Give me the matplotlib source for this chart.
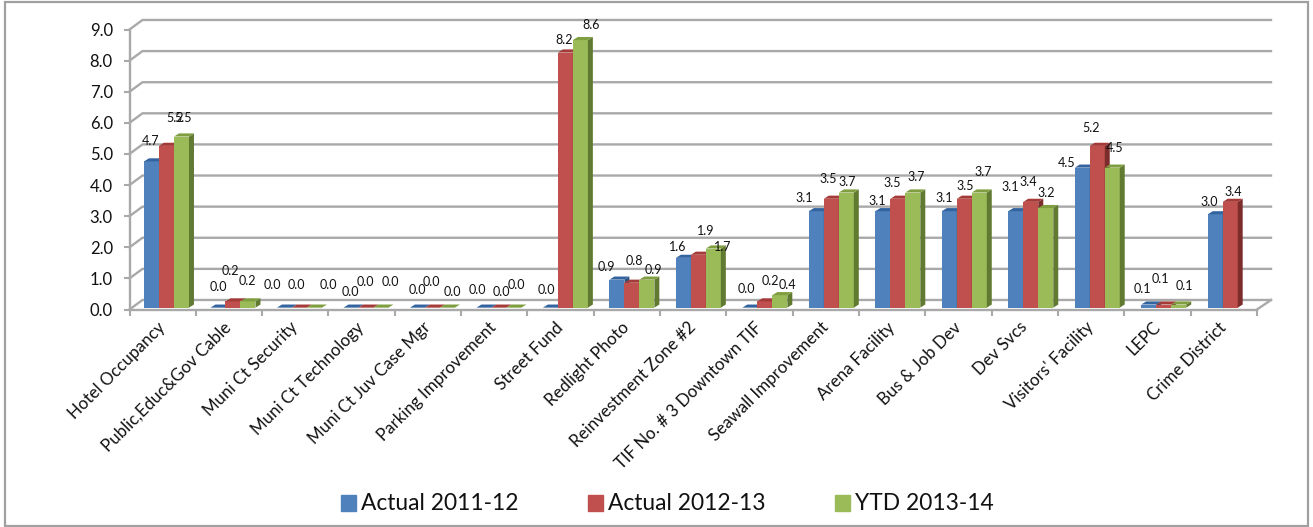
import matplotlib
matplotlib.use('Agg')
import matplotlib.pyplot as plt
from matplotlib.patches import Patch, Polygon, Rectangle
from matplotlib.transforms import Affine2D

plt.rcParams['font.family'] = ['Lato', 'DejaVu Sans']

categories = ['Hotel Occupancy', 'Public,Educ&Gov Cable', 'Muni Ct Security', 'Muni Ct Technology',
              'Muni Ct Juv Case Mgr', 'Parking Improvement', 'Street Fund', 'Redlight Photo',
              'Reinvestment Zone #2', 'TIF No. # 3 Downtown TIF', 'Seawall Improvement', 'Arena Facility',
              'Bus & Job Dev', 'Dev Svcs', "Visitors' Facility", 'LEPC', 'Crime District']
actual_2011 = [4.7, 0.0, 0.0, 0.0, 0.0, 0.0, 0.0, 0.9, 1.6, 0.0, 3.1, 3.1, 3.1, 3.1, 4.5, 0.1, 3.0]
actual_2012 = [5.2, 0.2, 0.0, 0.0, 0.0, 0.0, 8.2, 0.8, 1.7, 0.2, 3.5, 3.5, 3.5, 3.4, 5.2, 0.1, 3.4]
ytd_2013 = [5.5, 0.2, 0.0, 0.0, 0.0, 0.0, 8.6, 0.9, 1.9, 0.4, 3.7, 3.7, 3.7, 3.2, 4.5, 0.1, None]
series_names = ['Actual 2011-12', 'Actual 2012-13', 'YTD 2013-14']
y_ticks = [0, 1, 2, 3, 4, 5, 6, 7, 8, 9]

# where the labels sit in the picture (pixels from top left), they are not tidy in the original
label_pos = [
    [(151, 141), (175, 118), (183, 118)], [(218, 287), (230, 271), (247, 281)],
    [(272, 285), (296, 285), (328, 285)], [(350, 292), (365, 282), (390, 282)],
    [(417, 290), (431, 282), (452, 292)], [(477, 290), (501, 292), (516, 285)],
    [(546, 290), (564, 40), (591, 25)], [(606, 267), (634, 261), (653, 270)],
    [(678, 247), (723, 247), (706, 231)], [(746, 289), (770, 281), (787, 285)],
    [(804, 198), (828, 179), (847, 182)], [(877, 201), (892, 183), (916, 177)],
    [(944, 198), (965, 186), (983, 172)], [(1010, 187), (1028, 182), (1046, 193)],
    [(1067, 163), (1091, 128), (1115, 148)], [(1142, 289), (1160, 279), (1184, 286)],
    [(1209, 202), (1233, 192), None],
]

W, H = 1313, 527
front_colors = ['#4f81bd', '#c0504d', '#9bbb59']
top_colors = ['#34649f', '#a53b38', '#7f9e3f']
side_colors = ['#2f5381', '#7c2d2b', '#617a32']
grid_color = '#a9a9a9'
text_color = '#111111'

fig = plt.figure(figsize=(W / 100, H / 100), dpi=100)
ax = fig.add_axes([129.5 / W, (H - 309.5) / H, (1257 - 129.5) / W, 280 / H])
ax.set_xlim(0, 17)
ax.set_ylim(0, 9)

# outer frame of the chart
fig.add_artist(Rectangle((5 / W, 1.5 / H), 1303 / W, 524 / H, transform=fig.transFigure,
                         fill=False, ec='#a0a0a0', lw=1.6))

# fake 3d walls
wall_dx, wall_dy = 0.196, 0.306
for v in y_ticks:
    ax.plot([0, wall_dx, 17 + wall_dx + 0.015], [v, v + wall_dy, v + wall_dy], color=grid_color, lw=1.7,
            zorder=1, clip_on=False, solid_joinstyle='miter')
ax.plot([17, 17 + wall_dx + 0.015], [0, wall_dy], color=grid_color, lw=1.7, zorder=1, clip_on=False)

# fake 3d bars
bar_w = 0.226
base = 0.06
depth_x, depth_y = 0.075, 0.1
for s, values in enumerate([actual_2011, actual_2012, ytd_2013]):
    for i, v in enumerate(values):
        if v is None:
            continue
        x0 = i + 0.219 + i * 0.0024 + s * bar_w
        x1 = x0 + bar_w
        top = base + v
        ax.bar(x0, v, bar_w, bottom=base, align='edge', color=front_colors[s], zorder=3 + s + i * 3, clip_on=False)
        ax.add_patch(Polygon([(x1, base), (x1 + depth_x, base + depth_y), (x1 + depth_x, top + depth_y), (x1, top)],
                             fc=side_colors[s], ec='none', zorder=3 + s + i * 3, clip_on=False))
        ax.add_patch(Polygon([(x0, top), (x0 + depth_x, top + depth_y), (x1 + depth_x, top + depth_y), (x1, top)],
                             fc=top_colors[s], ec='none', zorder=3 + s + i * 3, clip_on=False))

# value labels, placed in picture pixels
pixels = Affine2D().scale(1, -1).translate(0, H)
for i, group in enumerate(label_pos):
    for s, values in enumerate([actual_2011, actual_2012, ytd_2013]):
        if group[s] is None:
            continue
        ax.text(group[s][0], group[s][1], f'{values[i]:.1f}', transform=pixels, ha='center', va='center',
                fontsize=9, color=text_color, zorder=100, clip_on=False)

for side in ['top', 'right']:
    ax.spines[side].set_visible(False)
for side in ['left', 'bottom']:
    ax.spines[side].set_color(grid_color)
    ax.spines[side].set_linewidth(1.7)
    ax.spines[side].set_zorder(2)

ax.set_yticks(y_ticks)
ax.set_yticklabels([f'{v:.1f}' for v in y_ticks], fontsize=12, color=text_color)
ax.tick_params(axis='y', length=4, width=1.5, color=grid_color, pad=8)
ax.set_xticks(range(18))
ax.set_xticklabels([])
ax.tick_params(axis='x', which='major', length=4, width=1.5, color=grid_color)
ax.set_xticks([i + 0.5 for i in range(17)], labels=categories, minor=True)
ax.tick_params(axis='x', which='minor', length=0, pad=11)
for lab in ax.get_xticklabels(minor=True):
    lab.set(rotation=45, ha='right', va='center', rotation_mode='anchor', fontsize=12.2, color=text_color)

handles = [Patch(color=c) for c in front_colors]
fig.legend(handles, series_names, loc='center left', bbox_to_anchor=(320 / W, (H - 504) / H), ncol=3, frameon=False,
           fontsize=16.4, handlelength=0.68, handleheight=0.7, handletextpad=0.2, columnspacing=3.05,
           labelcolor=text_color)

fig.savefig('out.png', dpi=100)
